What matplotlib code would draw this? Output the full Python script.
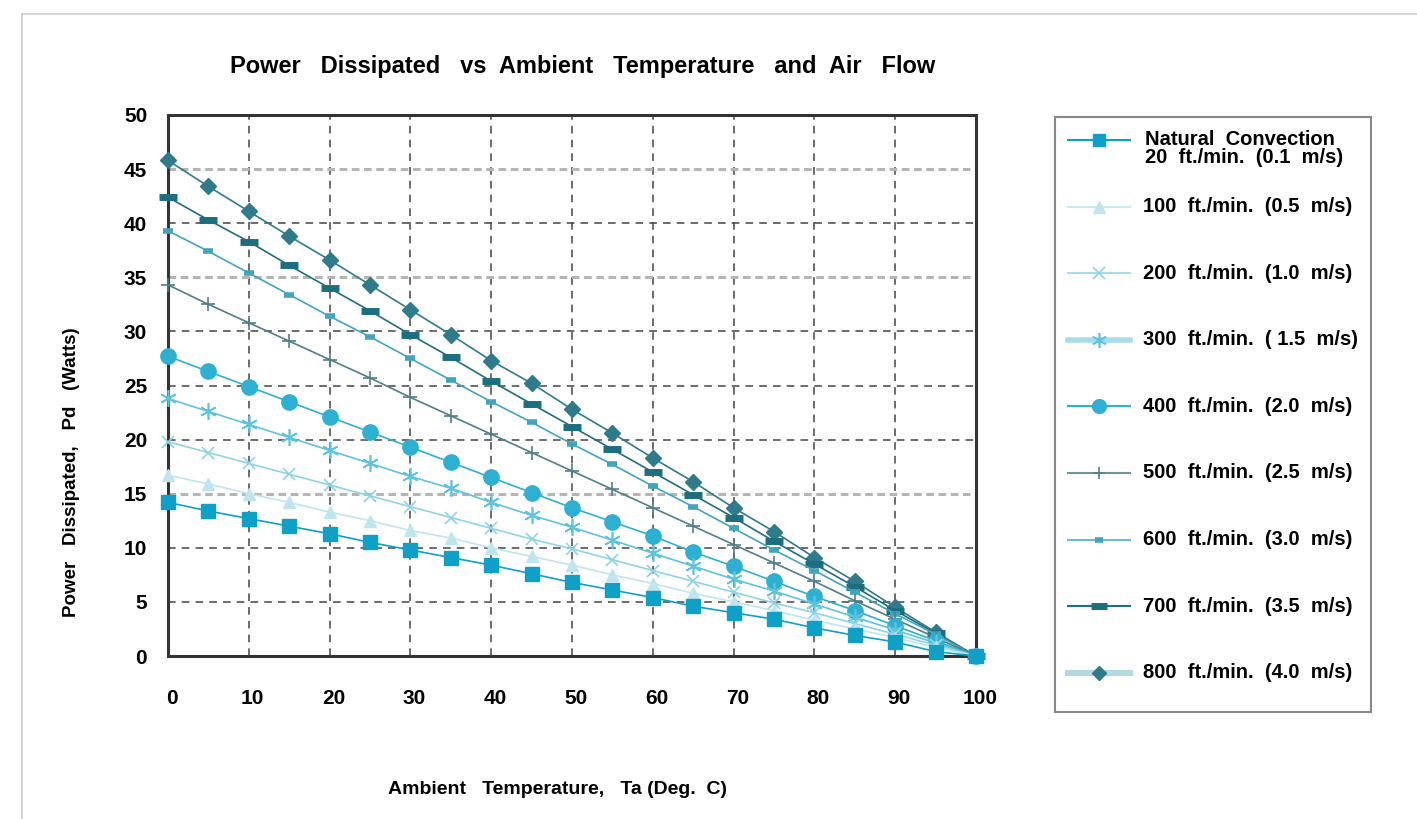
import matplotlib
matplotlib.use("Agg")
import matplotlib.pyplot as plt
import matplotlib.transforms as mtransforms
from matplotlib.lines import Line2D
from matplotlib.patches import Rectangle

plt.rcParams['font.family'] = ['Liberation Sans', 'DejaVu Sans']
plt.rcParams['font.weight'] = 'bold'

# ambient temperature (deg C)
temp = [0, 5, 10, 15, 20, 25, 30, 35, 40, 45, 50, 55, 60, 65, 70, 75, 80, 85, 90, 95, 100]

# power dissipated (W) per air flow
nat_conv = [14.2, 13.4, 12.7, 12.0, 11.3, 10.5, 9.8, 9.1, 8.4, 7.6, 6.8, 6.1, 5.4, 4.6, 4.0, 3.4, 2.6, 1.9, 1.3, 0.4, 0.0]
fpm_100 = [16.7, 15.9, 15.0, 14.2, 13.3, 12.5, 11.6, 10.9, 10.0, 9.2, 8.4, 7.5, 6.7, 5.8, 5.0, 4.2, 3.3, 2.5, 1.7, 0.8, 0.0]
fpm_200 = [19.8, 18.8, 17.8, 16.8, 15.8, 14.8, 13.8, 12.8, 11.8, 10.8, 9.9, 8.9, 7.9, 6.9, 5.9, 4.9, 4.0, 3.0, 2.0, 1.0, 0.0]
fpm_300 = [23.8, 22.6, 21.4, 20.2, 19.0, 17.8, 16.6, 15.5, 14.2, 13.0, 11.9, 10.7, 9.5, 8.3, 7.1, 6.0, 4.8, 3.6, 2.4, 1.2, 0.0]
fpm_400 = [27.7, 26.3, 24.9, 23.5, 22.1, 20.7, 19.3, 17.9, 16.5, 15.1, 13.7, 12.4, 11.1, 9.6, 8.3, 6.9, 5.5, 4.2, 2.8, 1.4, 0.0]
fpm_500 = [34.3, 32.5, 30.8, 29.1, 27.4, 25.7, 23.9, 22.2, 20.5, 18.8, 17.1, 15.4, 13.7, 12.0, 10.3, 8.6, 6.9, 5.1, 3.4, 1.7, 0.0]
fpm_600 = [39.3, 37.4, 35.4, 33.4, 31.4, 29.5, 27.5, 25.5, 23.5, 21.6, 19.6, 17.7, 15.7, 13.8, 11.8, 9.8, 7.9, 5.9, 3.9, 2.0, 0.0]
fpm_700 = [42.4, 40.3, 38.3, 36.1, 34.0, 31.9, 29.7, 27.6, 25.4, 23.3, 21.2, 19.1, 17.0, 14.9, 12.8, 10.6, 8.5, 6.4, 4.2, 2.1, 0.0]
fpm_800 = [45.8, 43.4, 41.1, 38.8, 36.6, 34.3, 32.0, 29.7, 27.3, 25.2, 22.8, 20.6, 18.3, 16.1, 13.7, 11.5, 9.1, 6.9, 4.5, 2.2, 0.0]

labels = ["Natural  Convection\n20  ft./min.  (0.1  m/s)",
          "100  ft./min.  (0.5  m/s)",
          "200  ft./min.  (1.0  m/s)",
          "300  ft./min.  ( 1.5  m/s)",
          "400  ft./min.  (2.0  m/s)",
          "500  ft./min.  (2.5  m/s)",
          "600  ft./min.  (3.0  m/s)",
          "700  ft./min.  (3.5  m/s)",
          "800  ft./min.  (4.0  m/s)"]

# legend order (natural convection first)
series = [nat_conv, fpm_100, fpm_200, fpm_300, fpm_400, fpm_500, fpm_600, fpm_700, fpm_800]
colors = ['#0fa0c8', '#bfe6ef', '#8ed3e6', '#5ec3df', '#2eb0d2', '#4f7f88', '#40a5bf', '#1d6f80', '#2f7b8b']
markers = ['s', '^', 'x', (6, 2, 0), 'o', '+', '_', '_', 'D']
msizes = [10, 9, 9, 12, 11, 10, 7, 13, 8]
mews = [1, 1, 1.2, 1.2, 1, 1.2, 4, 5, 1]
# legend handle line look
leg_lc = ['#0fa0c8', '#c8eaf2', '#a6dcea', '#a9dcea', '#2eb0d2', '#6f949b', '#6cbccf', '#1d6f80', '#b4d8df']
leg_lw = [1.5, 1.5, 1.5, 4, 1.5, 1.5, 1.5, 1.5, 4.5]

fig = plt.figure(figsize=(14.17, 8.19), dpi=100)
ax = fig.add_axes([168 / 1417, 1 - 656 / 819, (976 - 168) / 1417, (656 - 115) / 819])

for ys, c, m, ms, mw in list(zip(series, colors, markers, msizes, mews))[::-1]:
    ax.plot(temp, ys, color=c, lw=1.2, marker=m, markersize=ms, markeredgewidth=mw,
            markerfacecolor=c, markeredgecolor=c, clip_on=False, zorder=3)

ax.set_xlim(0, 100)
ax.set_ylim(0, 50)
ax.set_xticks(range(0, 101, 10))
ax.set_yticks(range(0, 51, 5))
ax.tick_params(length=0, labelsize=15)
ax.tick_params(axis='x', pad=24)
ax.tick_params(axis='y', pad=15)
offset = mtransforms.ScaledTranslation(4 / 100, 0, fig.dpi_scale_trans)
for lbl in ax.get_xticklabels():
    lbl.set_transform(lbl.get_transform() + offset)

# grid
for xv in range(10, 100, 10):
    ax.axvline(xv, color='#444444', lw=1.1, ls=(0, (5, 4)), zorder=1)
for yv in range(5, 50, 5):
    if yv in (15, 35, 45):
        ax.axhline(yv, color='#b5b5b5', lw=2.2, ls=(0, (2.5, 1.5)), zorder=1)
    else:
        ax.axhline(yv, color='#444444', lw=1.1, ls=(0, (5, 4)), zorder=1)

for s in ax.spines.values():
    s.set_linewidth(2.2)
    s.set_color('#333333')

fig.text(583 / 1417, 1 - 67 / 819, "Power   Dissipated   vs  Ambient   Temperature   and  Air   Flow",
         ha='center', va='center', fontsize=17, fontweight='bold')
fig.text(72 / 1417, 1 - 472 / 819, "Power   Dissipated,   Pd   (Watts)", rotation=90,
         ha='center', va='center', fontsize=13.5, fontweight='bold')
fig.text(557 / 1417, 1 - 790 / 819, "Ambient   Temperature,   Ta (Deg.  C)",
         ha='center', va='center', fontsize=14, fontweight='bold')

# legend box, drawn by hand
fig.patches.append(Rectangle((1055 / 1417, 1 - 712 / 819), (1371 - 1055) / 1417, (712 - 117) / 819,
                             transform=fig.transFigure, fill=False, edgecolor='#888888', lw=1.5))
for i, lab in enumerate(labels):
    yp = 1 - (140 + 66.6 * i) / 819
    fig.add_artist(Line2D([1068 / 1417, 1130 / 1417], [yp, yp], color=leg_lc[i], lw=leg_lw[i]))
    fig.add_artist(Line2D([1099 / 1417], [yp], marker=markers[i], markersize=msizes[i] * 0.9,
                          markeredgewidth=mews[i], color=colors[i], markerfacecolor=colors[i],
                          markeredgecolor=colors[i], lw=0))
    if i == 0:
        fig.text(1145 / 1417, 1 - 130 / 819, lab, ha='left', va='top', fontsize=14.5,
                 fontweight='bold', linespacing=0.95)
    else:
        fig.text(1143 / 1417, yp, lab, ha='left', va='center', fontsize=14.5, fontweight='bold')

# page border lines
fig.add_artist(Line2D([22 / 1417, 1], [1 - 14 / 819, 1 - 14 / 819], color='#cccccc', lw=1.2))
fig.add_artist(Line2D([22 / 1417, 22 / 1417], [0, 1 - 14 / 819], color='#cccccc', lw=1.2))

fig.savefig("out.png", dpi=100)
